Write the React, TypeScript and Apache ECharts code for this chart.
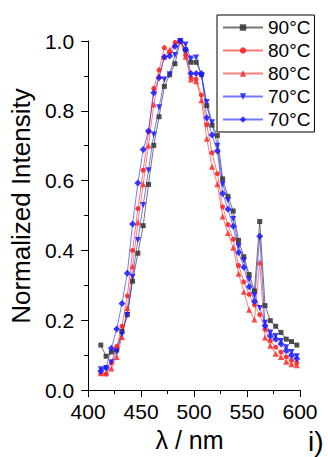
import React, { useEffect, useRef } from "react";
import * as echarts from "echarts";

const wavelengths = [
  412, 417, 422, 427, 432, 437, 442, 447, 452, 457, 462, 467, 472, 477, 482, 487,
  492, 497, 502, 507, 512, 517, 522, 527, 532, 537, 542, 547, 552, 557, 562, 567,
  572, 577, 582, 587, 592, 597,
];

const s90 = [
  0.129, 0.097, 0.109, 0.115, 0.168, 0.216, 0.312, 0.392, 0.471, 0.589, 0.701, 0.783, 0.87, 0.903, 0.935, 1.0,
  0.975, 0.939, 0.939, 0.904, 0.815, 0.759, 0.729, 0.605, 0.555, 0.513, 0.429, 0.382, 0.331, 0.284, 0.483, 0.242,
  0.199, 0.183, 0.165, 0.146, 0.139, 0.129,
];

const s80a = [
  0.049, 0.046, 0.078, 0.125, 0.183, 0.27, 0.4, 0.52, 0.63, 0.74, 0.864, 0.917, 0.981, 0.967, 0.996, 1.0,
  0.96, 0.895, 0.891, 0.845, 0.76, 0.68, 0.62, 0.525, 0.474, 0.432, 0.357, 0.31, 0.274, 0.244, 0.216, 0.174,
  0.141, 0.123, 0.109, 0.095, 0.085, 0.078,
];

const s80b = [
  0.048, 0.048, 0.062, 0.095, 0.152, 0.235, 0.355, 0.48, 0.59, 0.7, 0.818, 0.9, 0.955, 0.975, 0.99, 1.0,
  0.955, 0.89, 0.885, 0.83, 0.72, 0.64, 0.59, 0.497, 0.45, 0.408, 0.333, 0.282, 0.23, 0.202, 0.366, 0.151,
  0.127, 0.104, 0.095, 0.081, 0.074, 0.071,
];

const s70a = [
  0.06, 0.063, 0.08, 0.11, 0.16, 0.215, 0.325, 0.43, 0.53, 0.63, 0.732, 0.81, 0.89, 0.905, 0.96, 1.0,
  0.99, 0.95, 0.953, 0.9, 0.825, 0.767, 0.7, 0.59, 0.544, 0.49, 0.413, 0.371, 0.317, 0.272, 0.235, 0.193,
  0.165, 0.155, 0.141, 0.123, 0.109, 0.097,
];

const s70b = [
  0.055, 0.063, 0.12, 0.175, 0.248, 0.335, 0.476, 0.593, 0.689, 0.742, 0.852, 0.895, 0.954, 0.957, 0.985, 1.0,
  0.975, 0.907, 0.907, 0.907, 0.78, 0.731, 0.685, 0.563, 0.518, 0.469, 0.394, 0.352, 0.296, 0.254, 0.441, 0.184,
  0.155, 0.146, 0.132, 0.113, 0.099, 0.09,
];

const seriesNames = ["90°C", "80°C", "80°C ", "70°C", "70°C "];

const FONT = "Liberation Sans, Arial, Helvetica, sans-serif";

function pairs(vals: number[]) {
  return wavelengths.map((w, i) => [w, vals[i]]);
}

export default function App() {
  const ref = useRef<HTMLDivElement>(null);
  useEffect(() => {
    if (!ref.current) return;
    const chart = echarts.init(ref.current, undefined, { renderer: "svg" });

    const mk = (
      name: string,
      vals: number[],
      symbol: string,
      size: number,
      marker: string,
      line: string,
      rotate = 0
    ) => ({
      name,
      type: "line",
      data: pairs(vals),
      symbol,
      symbolSize: size,
      symbolRotate: rotate,
      showAllSymbol: true,
      lineStyle: { color: line, width: 1 },
      itemStyle: { color: marker, opacity: 0.85 },
      emphasis: { disabled: true },
    });

    chart.setOption({
      animation: false,
      backgroundColor: "#ffffff",
      textStyle: { fontFamily: FONT },
      grid: { left: 87, right: 28, top: 41, bottom: 60, containLabel: false },
      legend: {
        orient: "vertical",
        left: 217,
        top: 15,
        padding: [3, 4, 3, 5],
        borderColor: "#000",
        borderWidth: 1,
        itemWidth: 40,
        itemHeight: 8,
        itemGap: 4,
        selectedMode: false,
        textStyle: { fontSize: 19, color: "#000", fontFamily: FONT },
        formatter: (n: string) => n.trim(),
        data: seriesNames,
      },
      xAxis: {
        type: "value",
        min: 400,
        max: 600,
        interval: 50,
        name: "λ / nm",
        nameLocation: "middle",
        nameGap: 34,
        nameTextStyle: { fontSize: 25, color: "#000", fontFamily: FONT, padding: [0, 9, 0, 0] },
        axisLine: { show: true, lineStyle: { color: "#000", width: 1 } },
        axisTick: { show: true, inside: false, length: 7, lineStyle: { color: "#000" } },
        minorTick: { show: true, splitNumber: 2, length: 4, lineStyle: { color: "#000" } },
        splitLine: { show: false },
        axisLabel: { fontSize: 21, color: "#000", margin: 11, fontFamily: FONT },
      },
      yAxis: {
        type: "value",
        min: 0,
        max: 1.0,
        interval: 0.2,
        name: "Normalized Intensity",
        nameLocation: "middle",
        nameGap: 52,
        nameTextStyle: { fontSize: 26, color: "#000", fontFamily: FONT, padding: [0, 0, 0, 19] },
        axisLine: { show: true, lineStyle: { color: "#000", width: 1 } },
        axisTick: { show: true, inside: false, length: 7, lineStyle: { color: "#000" } },
        minorTick: { show: true, splitNumber: 2, length: 4, lineStyle: { color: "#000" } },
        splitLine: { show: false },
        axisLabel: {
          fontSize: 21,
          color: "#000",
          margin: 14,
          fontFamily: FONT,
          formatter: (v: number) => v.toFixed(1),
        },
      },
      graphic: [
        {
          type: "text",
          left: 308,
          top: 427,
          style: { text: "i)", fontSize: 28, fill: "#000", fontFamily: FONT },
        },
      ],
      series: [
        mk(seriesNames[0], s90, "rect", 5, "#333333", "rgba(70,70,70,0.75)"),
        mk(seriesNames[1], s80a, "circle", 5, "#ff1a1a", "rgba(255,30,30,0.6)"),
        mk(seriesNames[2], s80b, "triangle", 6, "#ff2a2a", "rgba(255,40,40,0.6)"),
        mk(seriesNames[3], s70a, "triangle", 6, "#1a1aff", "rgba(30,30,255,0.6)", 180),
        mk(seriesNames[4], s70b, "diamond", 7, "#1a1aff", "rgba(30,30,255,0.6)"),
      ],
    });
    return () => chart.dispose();
  }, []);
  return (
    <div
      ref={ref}
      style={{ position: "fixed", left: 0, top: 0, width: 328, height: 457 }}
    />
  );
}
